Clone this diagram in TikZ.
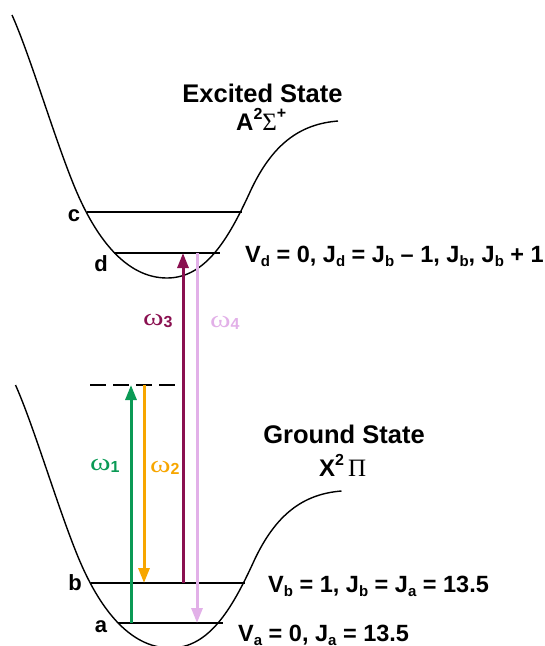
\documentclass[tikz,border=0pt]{standalone}
\usepackage{fontspec}
\setmainfont{Liberation Sans}
\newfontfamily\grk{Liberation Serif}
\usetikzlibrary{arrows.meta}
\definecolor{cgreen}{RGB}{10,154,85}
\definecolor{corange}{RGB}{247,166,0}
\definecolor{cmaroon}{RGB}{138,16,80}
\definecolor{cpink}{RGB}{226,176,232}
\newcommand{\lsub}[1]{\raisebox{-0.2em}{\fontsize{15}{15}\selectfont #1}}
\newcommand{\omlab}[1]{\scalebox{1.3}[1]{\grk\fontsize{24}{24}\selectfont\symbol{"03C9}}\raisebox{-0.2em}{\bfseries\fontsize{16}{16}\selectfont #1}}
\newcommand{\pescurve}{\draw[curve] (12,15) .. controls (30,55) and (55,140) .. (75,188)
  .. controls (95,236) and (125,278) .. (167,278)
  .. controls (205,278) and (228,240) .. (250,192)
  .. controls (272,144) and (300,124) .. (338,121);}
\begin{document}
\begin{tikzpicture}[x=1pt,y=-1pt,
  curve/.style={line width=1.4pt,black},
  level/.style={line width=1.4pt,black},
  beam/.style={line width=3pt,-{Triangle[length=15pt,width=11pt]}},
  lab/.style={font=\bfseries\fontsize{22}{22}\selectfont,inner sep=0pt},
  eq/.style={font=\bfseries\fontsize{23.5}{23.5}\selectfont,inner sep=0pt,anchor=base west},
  title/.style={font=\bfseries\fontsize{25.5}{25.5}\selectfont,inner sep=0pt,anchor=base},
  om/.style={inner sep=0pt,anchor=base west}]
\useasboundingbox (0,0) rectangle (545,646);
% potential curves
\pescurve
\begin{scope}[shift={(3.5,370)}]
\pescurve
\end{scope}
% levels
\coordinate (cL) at (87,212); \coordinate (cR) at (242,212);
\coordinate (dL) at (114,253); \coordinate (dR) at (220,253);
\coordinate (bL) at (91,583); \coordinate (bR) at (245,583);
\coordinate (aL) at (118,623); \coordinate (aR) at (223,623);
\coordinate (vL) at (90,385); \coordinate (vR) at (175,385);
\draw[level] (cL) -- (cR);
\draw[level] (dL) -- (dR);
\draw[level] (bL) -- (bR);
\draw[level] (aL) -- (aR);
\draw[line width=1.4pt,dash pattern=on 16pt off 7pt] (vL) -- (vR);
% arrow endpoints
\coordinate (g0) at (131,623); \coordinate (g1) at (131,385);
\coordinate (o0) at (144,385); \coordinate (o1) at (144,583);
\coordinate (m0) at (183,583); \coordinate (m1) at (183,253);
\coordinate (p0) at (197,253); \coordinate (p1) at (197,623);
\draw[beam,cgreen] (g0) -- (g1);
\draw[beam,corange] (o0) -- (o1);
\draw[beam,cmaroon] (m0) -- (m1);
\draw[beam,cpink] (p0) -- (p1);
% labels
\node[lab] (lc) at (74,216) {c};
\node[lab] (ld) at (101,264) {d};
\node[lab] (lb) at (75,583) {b};
\node[lab] (la) at (101,627) {a};
\node[om,text=cgreen] (w1) at (90,470) {\omlab{1}};
\node[om,text=corange] (w2) at (150,472) {\omlab{2}};
\node[om,text=cmaroon] (w3) at (143,325) {\omlab{3}};
\node[om,text=cpink] (w4) at (210,327) {\omlab{4}};
\node[title] (ex) at (262.5,102) {Excited State};
\node[title,anchor=base west,font=\bfseries\fontsize{24}{24}\selectfont] (exs) at (236,130) {A\raisebox{0.42em}{\fontsize{16}{16}\selectfont 2}{\grk\mdseries\fontsize{25}{25}\selectfont\symbol{"03A3}}\raisebox{0.48em}{\fontsize{16}{16}\selectfont +}};
\node[title] (gr) at (344,443) {Ground State};
\node[title,anchor=base west,font=\bfseries\fontsize{24}{24}\selectfont] (grs) at (319,476) {X\raisebox{0.42em}{\fontsize{16}{16}\selectfont 2}\,{\grk\mdseries\fontsize{25}{25}\selectfont\symbol{"03A0}}};
\node[eq] (vd) at (245,262) {V\lsub{d} = 0, J\lsub{d} = J\lsub{b} – 1, J\lsub{b}, J\lsub{b} + 1};
\node[eq] (vb) at (268,592) {V\lsub{b} = 1, J\lsub{b} = J\lsub{a} = 13.5};
\node[eq] (va) at (238,641) {V\lsub{a} = 0, J\lsub{a} = 13.5};
\end{tikzpicture}
\end{document}
